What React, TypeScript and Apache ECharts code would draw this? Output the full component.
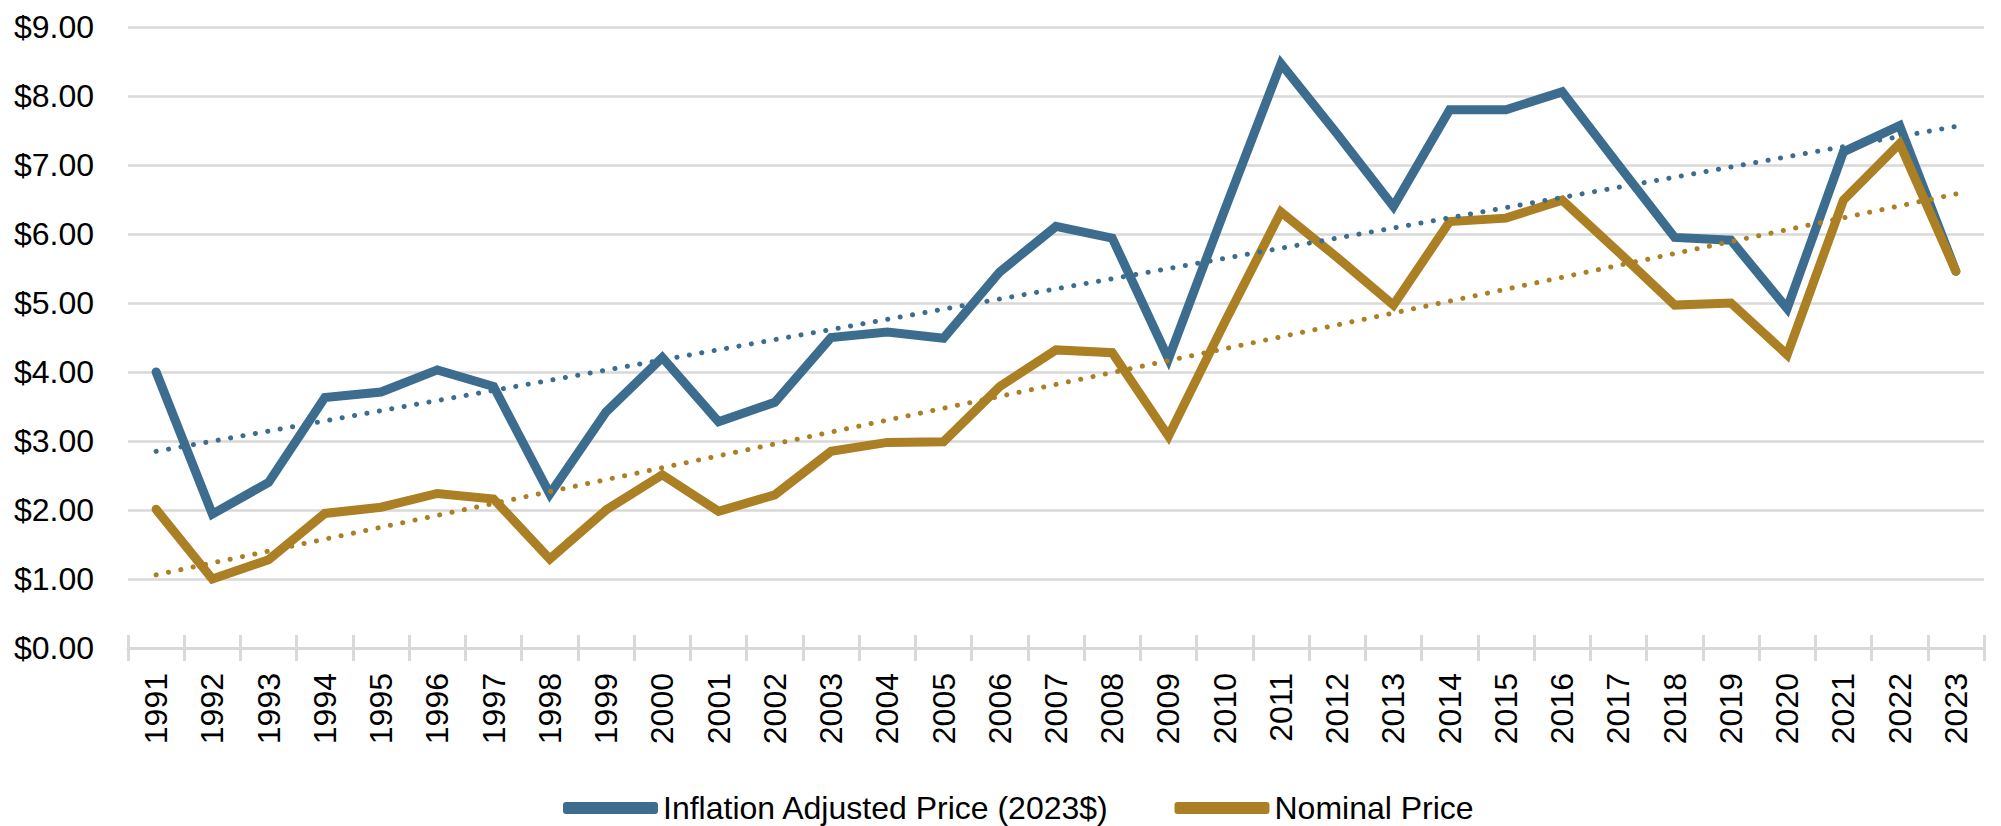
import React, { useEffect, useRef } from "react";
import * as echarts from "echarts";

const years = [
  "1991", "1992", "1993", "1994", "1995", "1996", "1997", "1998", "1999", "2000",
  "2001", "2002", "2003", "2004", "2005", "2006", "2007", "2008", "2009", "2010",
  "2011", "2012", "2013", "2014", "2015", "2016", "2017", "2018", "2019", "2020",
  "2021", "2022", "2023",
];

const inflationAdjusted = [
  4.0, 1.94, 2.4, 3.63, 3.71, 4.03, 3.79, 2.23, 3.42, 4.21,
  3.28, 3.56, 4.5, 4.58, 4.49, 5.45, 6.11, 5.94, 4.19, 6.35,
  8.47, 7.45, 6.4, 7.8, 7.8, 8.06, 7.0, 5.95, 5.91, 4.92,
  7.19, 7.57, 5.46,
];

const nominal = [
  2.01, 1.0, 1.28, 1.95, 2.04, 2.24, 2.16, 1.29, 2.0, 2.51,
  1.98, 2.22, 2.85, 2.98, 2.99, 3.79, 4.32, 4.28, 3.07, 4.72,
  6.32, 5.66, 4.97, 6.18, 6.23, 6.49, 5.74, 4.97, 5.0, 4.25,
  6.49, 7.31, 5.46,
];

// Linear trendline endpoints (first year, last year)
const trendYears = ["1991", "2023"];
const inflationTrend = [2.85, 7.56];
const nominalTrend = [1.06, 6.58];

const seriesNames = ["Inflation Adjusted Price (2023$)", "Nominal Price"];

const BLUE = "#3d6d8e";
const GOLD = "#ab7f24";
const GRID = "#d9d9d9";
const FONT = "'Liberation Sans', Arial, sans-serif";

export default function App() {
  const ref = useRef<HTMLDivElement>(null);

  useEffect(() => {
    document.body.style.margin = "0";
    const chart = echarts.init(ref.current!, null, { renderer: "svg" });
    const dotted = {
      type: [0.1, 12.5] as any,
      cap: "round" as const,
      width: 5,
    };
    chart.setOption({
      animation: false,
      backgroundColor: "#ffffff",
      textStyle: { fontFamily: FONT },
      grid: { left: 128, right: 17, top: 27, bottom: 178, containLabel: false },
      legend: {
        data: seriesNames,
        left: 558,
        top: 786,
        itemWidth: 95,
        itemHeight: 12,
        itemGap: 65,
        icon: "roundRect",
        textStyle: { fontFamily: FONT, fontSize: 32, color: "#000", lineHeight: 34 },
      },
      xAxis: [
        {
          type: "category",
          data: years,
          boundaryGap: true,
          axisLine: { show: true, lineStyle: { color: GRID, width: 3 } },
          axisTick: { show: true, length: 13, lineStyle: { color: GRID, width: 3 } },
          axisLabel: {
            rotate: 90,
            margin: 25,
            interval: 0,
            fontSize: 32,
            fontFamily: FONT,
            color: "#000",
          },
          splitLine: { show: false },
        },
        {
          type: "category",
          data: years,
          position: "bottom",
          boundaryGap: true,
          axisLine: { show: false },
          axisTick: { show: true, inside: true, length: 13, lineStyle: { color: GRID, width: 3 } },
          axisLabel: { show: false },
          splitLine: { show: false },
        },
      ],
      yAxis: {
        type: "value",
        min: 0,
        max: 9,
        interval: 1,
        axisLine: { show: false },
        axisTick: { show: false },
        axisLabel: {
          margin: 34,
          fontSize: 32,
          fontFamily: FONT,
          color: "#000",
          formatter: (v: number) => "$" + v.toFixed(2),
        },
        splitLine: { lineStyle: { color: GRID, width: 2.5 } },
      },
      series: [
        {
          name: seriesNames[0],
          type: "line",
          data: inflationAdjusted,
          showSymbol: false,
          symbol: "none",
          color: BLUE,
          lineStyle: { color: BLUE, width: 9, join: "miter", cap: "round" },
          z: 2,
        },
        {
          name: seriesNames[1],
          type: "line",
          data: nominal,
          showSymbol: false,
          symbol: "none",
          color: GOLD,
          lineStyle: { color: GOLD, width: 9, join: "miter", cap: "round" },
          z: 3,
        },
        {
          name: "Inflation trend",
          type: "line",
          data: trendYears.map((y, i) => [y, inflationTrend[i]]),
          showSymbol: false,
          symbol: "none",
          lineStyle: { ...dotted, color: BLUE },
          z: 4,
        },
        {
          name: "Nominal trend",
          type: "line",
          data: trendYears.map((y, i) => [y, nominalTrend[i]]),
          showSymbol: false,
          symbol: "none",
          lineStyle: { ...dotted, color: GOLD },
          z: 4,
        },
      ],
    });
    return () => chart.dispose();
  }, []);

  return <div ref={ref} style={{ width: 2001, height: 826 }} />;
}
